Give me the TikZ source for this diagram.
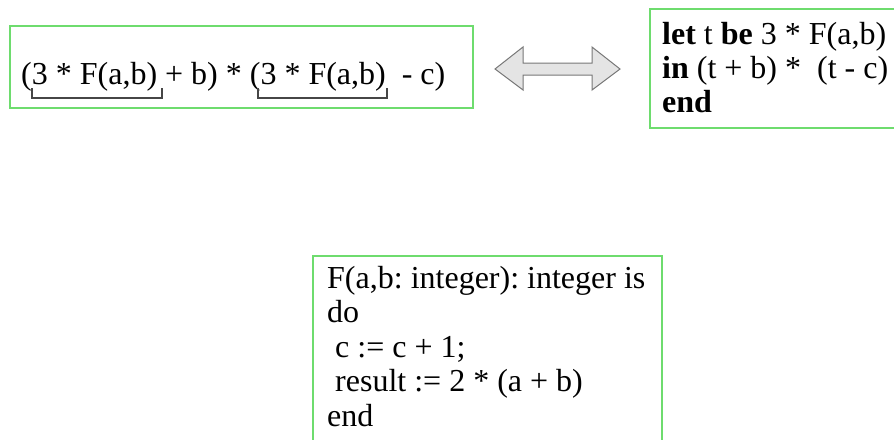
\documentclass[tikz,border=0pt]{standalone}
\usepackage{fontspec}
\setmainfont{Liberation Serif}
\frenchspacing
\definecolor{boxgreen}{RGB}{110,220,110}
\definecolor{brk}{RGB}{70,70,70}
\definecolor{arrfill}{RGB}{228,228,228}
\definecolor{arrline}{RGB}{120,120,120}
\begin{document}
\begin{tikzpicture}[x=1pt,y=-1pt,
  gbox/.style={draw=boxgreen,line width=2pt},
  codeline/.style={anchor=base west,inner sep=0pt,font=\fontsize{32}{34}\selectfont},
  brace/.style={draw=brk,line width=1.4pt}]
\useasboundingbox (0,0) rectangle (894,439);
\clip (0,0) rectangle (894,439);
\fill[white] (0,0) rectangle (894,439);
% boxes
\draw[gbox] (10,26) rectangle (473,108);
\draw[gbox] (650,9) rectangle (905,128);
\draw[gbox] (313,255.5) rectangle (662,450);
% box 1 text
\node[codeline] (e1) at (21,84) {(3 * F(a,b) + b) * (3 * F(a,b)\ \ - c)};
% brackets
\coordinate (b1a) at (32,88);
\coordinate (b1b) at (162,88);
\coordinate (b2a) at (258,88);
\coordinate (b2b) at (387,88);
\draw[brace] (b1a) -- ++(0,10) -| (b1b);
\draw[brace] (b2a) -- ++(0,10) -| (b2b);
% double arrow
\draw[fill=arrfill,draw=arrline,line width=1pt,line join=miter]
  (495,69) -- (523,47) -- (523,63) -- (592,63) -- (592,47) -- (620,69)
  -- (592,90) -- (592,75) -- (523,75) -- (523,90) -- cycle;
% box 2 text
\node[codeline] (l1) at (662,44) {\textbf{let} t \textbf{be} 3 * F(a,b)};
\node[codeline] (l2) at (662,78) {\textbf{in} (t + b) *\ \ (t - c)};
\node[codeline] (l3) at (662,112) {\textbf{end}};
% box 3 text
\node[codeline] (f1) at (327,288) {F(a,b: integer): integer is};
\node[codeline] (f2) at (327,322.5) {do};
\node[codeline] (f3) at (327,357) {\ c := c + 1;};
\node[codeline] (f4) at (327,391.5) {\ result := 2 * (a + b)};
\node[codeline] (f5) at (327,426) {end};
\end{tikzpicture}
\end{document}
